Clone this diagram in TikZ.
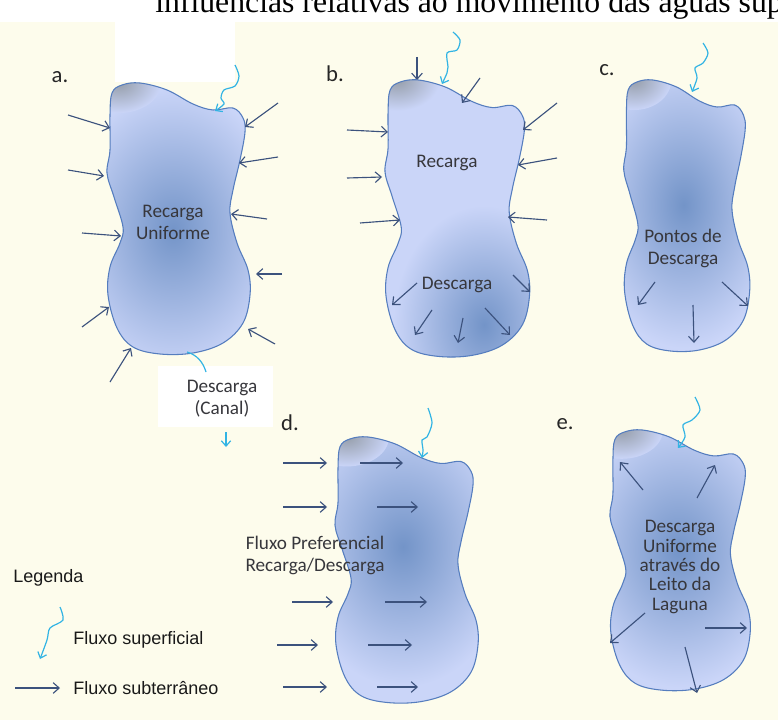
\documentclass[tikz,border=0pt]{standalone}
\usepackage{fontspec}
\setmainfont{Carlito}
\newfontfamily\legfont{Liberation Sans}
\newfontfamily\topfont{Liberation Serif}
\usetikzlibrary{arrows.meta}
\definecolor{cream}{RGB}{253,252,236}
\definecolor{blobbase}{RGB}{202,213,248}
\definecolor{blobdark}{RGB}{115,148,200}
\definecolor{blobgrey}{RGB}{150,158,170}
\definecolor{blobline}{RGB}{85,125,190}
\definecolor{arrowc}{RGB}{60,82,125}
\definecolor{cyanc}{RGB}{50,180,228}
\definecolor{textc}{RGB}{55,55,60}
\newcommand\blobshape{plot[smooth cycle, tension=0.6] coordinates {(7,10) (17,2) (35,0) (62,7) (88,21) (108,27) (128,25) (138,35) (140,49) (135,77) (128,107) (125,130) (132,160) (143,187) (145,212) (138,240) (118,260) (88,270) (55,271) (28,264) (12,245) (3,212) (5,184) (15,160) (18,144) (9,114) (2,90) (5,67) (5,32)}}
\newcommand\drawblob[7]{%
  \begin{scope}[shift={(#1,#2)}, xscale=#3, yscale=#4]
    \begin{scope}
      \clip \blobshape;
      \fill[blobbase] (-10,-10) rectangle (160,290);
      \shade[inner color=blobdark, outer color=blobbase] (#5,#6) ellipse [x radius=#7, y radius=1.3*#7];
      \shade[inner color=blobgrey, outer color=blobbase] (14,0) ellipse [x radius=42, y radius=30];
    \end{scope}
    \draw[blobline, line width=0.8pt] \blobshape;
  \end{scope}}
\begin{document}
\begin{tikzpicture}[x=0.75pt,y=-0.75pt,
  flow/.style={draw=arrowc, line width=0.85pt, -{Straight Barb[length=4.5pt,width=8pt]}},
  surf/.style={draw=cyanc, line width=0.9pt, -{Straight Barb[length=4pt,width=7pt]}},
  lbl/.style={font=\fontsize{14.4}{16.5}\selectfont, text=textc, align=center, inner sep=0pt},
  letter/.style={font=\fontsize{17}{20}\selectfont, text=black!85, inner sep=0pt},
  legtxt/.style={font=\legfont\fontsize{13.5}{16}\selectfont, text=black!90, anchor=west, inner sep=0pt}]
\clip (0,0) rectangle (778,720);
\fill[white] (0,0) rectangle (778,720);
\fill[cream] (0,22) rectangle (778,720);
\fill[white] (115,22) rectangle (235,82);
\fill[white] (158,366) rectangle (273,427);
\node[anchor=base west, inner sep=0pt, font=\topfont\fontsize{23.8}{28}\selectfont] (title) at (155,13) {influências relativas ao movimento das águas sup};

% blobs
\drawblob{105}{83}{1}{1}{68}{147}{110}
\drawblob{383}{80}{1.01}{1.02}{100}{240}{90}
\drawblob{622}{80}{0.88}{1}{70}{125}{110}
\drawblob{333}{437}{1}{0.98}{70}{112}{110}
\drawblob{608}{430}{0.98}{0.96}{72}{125}{110}

% panel a
\node[letter] (la) at (60,77) {a.};
\node[lbl] (ta) at (173,222) {Recarga\\Uniforme};
\draw[flow] (68,115) -- (110,128);
\draw[flow] (68,170) -- (104,176);
\draw[flow] (82,233) -- (121,236);
\draw[flow] (82,327) -- (109,307);
\draw[flow] (110,382) -- (131,348);
\draw[flow] (278,103) -- (245,127);
\draw[flow] (278,157) -- (239,163);
\draw[flow] (267,219) -- (231,214);
\draw[flow] (282,274) -- (256,274);
\draw[flow] (275,344) -- (248,329);
\draw[surf] plot[smooth] coordinates {(235,65) (239,76) (235,86) (224,90) (221,98) (224,104) (215,111)};
\draw[cyanc, line width=0.9pt] (187,352) .. controls (197,355) and (203,362) .. (206,372);
\node[lbl] (canal) at (222,399) {Descarga\\(Canal)};
\draw[surf] (226,432) -- (226,447);

% panel b
\node[letter] (lb) at (335,74) {b.};
\node[lbl] (tb1) at (447,163) {Recarga};
\node[lbl] (tb2) at (457,285) {Descarga};
\draw[flow] (417,57) -- (417,80);
\draw[surf] plot[smooth] coordinates {(453,32) (460,40) (457,50) (447,53) (448,67) (447,73) (442,84)};
\draw[flow] (480,78) -- (462,103);
\draw[flow] (557,103) -- (523,130);
\draw[flow] (557,158) -- (518,165);
\draw[flow] (547,220) -- (508,217);
\draw[flow] (347,130) -- (388,132);
\draw[flow] (347,178) -- (382,177);
\draw[flow] (360,223) -- (400,220);
\draw[flow] (417,283) -- (392,305);
\draw[flow] (513,275) -- (530,292);
\draw[flow] (432,310) -- (415,335);
\draw[flow] (463,318) -- (458,343);
\draw[flow] (485,308) -- (510,335);

% panel c
\node[letter] (lc) at (607,70) {c.};
\node[lbl] (tc) at (683,248) {Pontos de\\Descarga};
\draw[surf] plot[smooth] coordinates {(703,43) (708,53) (703,63) (695,68) (697,78) (692,92)};
\draw[flow] (655,282) -- (638,305);
\draw[flow] (693,305) -- (694,343);
\draw[flow] (722,282) -- (748,306);

% panel d
\node[letter] (ld) at (290,423) {d.};
\node[lbl] (td) at (315,555) {Fluxo Preferencial\\Recarga/Descarga};
\draw[surf] plot[smooth] coordinates {(428,408) (432,423) (427,437) (422,440) (423,450) (422,458)};
\draw[flow] (283,463) -- (327,463);
\draw[flow] (283,507) -- (327,507);
\draw[flow] (292,602) -- (333,602);
\draw[flow] (277,645) -- (318,645);
\draw[flow] (283,687) -- (327,687);
\draw[flow] (360,463) -- (403,463);
\draw[flow] (377,507) -- (418,507);
\draw[flow] (385,602) -- (427,602);
\draw[flow] (368,645) -- (412,645);
\draw[flow] (377,687) -- (418,687);

% panel e
\node[letter] (le) at (565,424) {e.};
\node[lbl, font=\fontsize{14.4}{14.6}\selectfont] (te) at (680,567) {Descarga\\Uniforme\\através do\\Leito da\\Laguna};
\draw[surf] plot[smooth] coordinates {(695,397) (700,410) (692,420) (683,425) (685,437) (678,448)};
\draw[flow] (643,490) -- (620,462);
\draw[flow] (697,498) -- (715,465);
\draw[flow] (645,613) -- (610,643);
\draw[flow] (705,628) -- (747,628);
\draw[flow] (685,647) -- (697,693);

% legend
\node[legtxt] (leg) at (13,578) {Legenda};
\draw[surf] plot[smooth] coordinates {(60,607) (63,620) (50,628) (47,640) (40,659)};
\node[legtxt] (l1) at (73,640) {Fluxo superficial};
\draw[flow] (15,688) -- (60,688);
\node[legtxt] (l2) at (73,688) {Fluxo subterrâneo};
\end{tikzpicture}
\end{document}
